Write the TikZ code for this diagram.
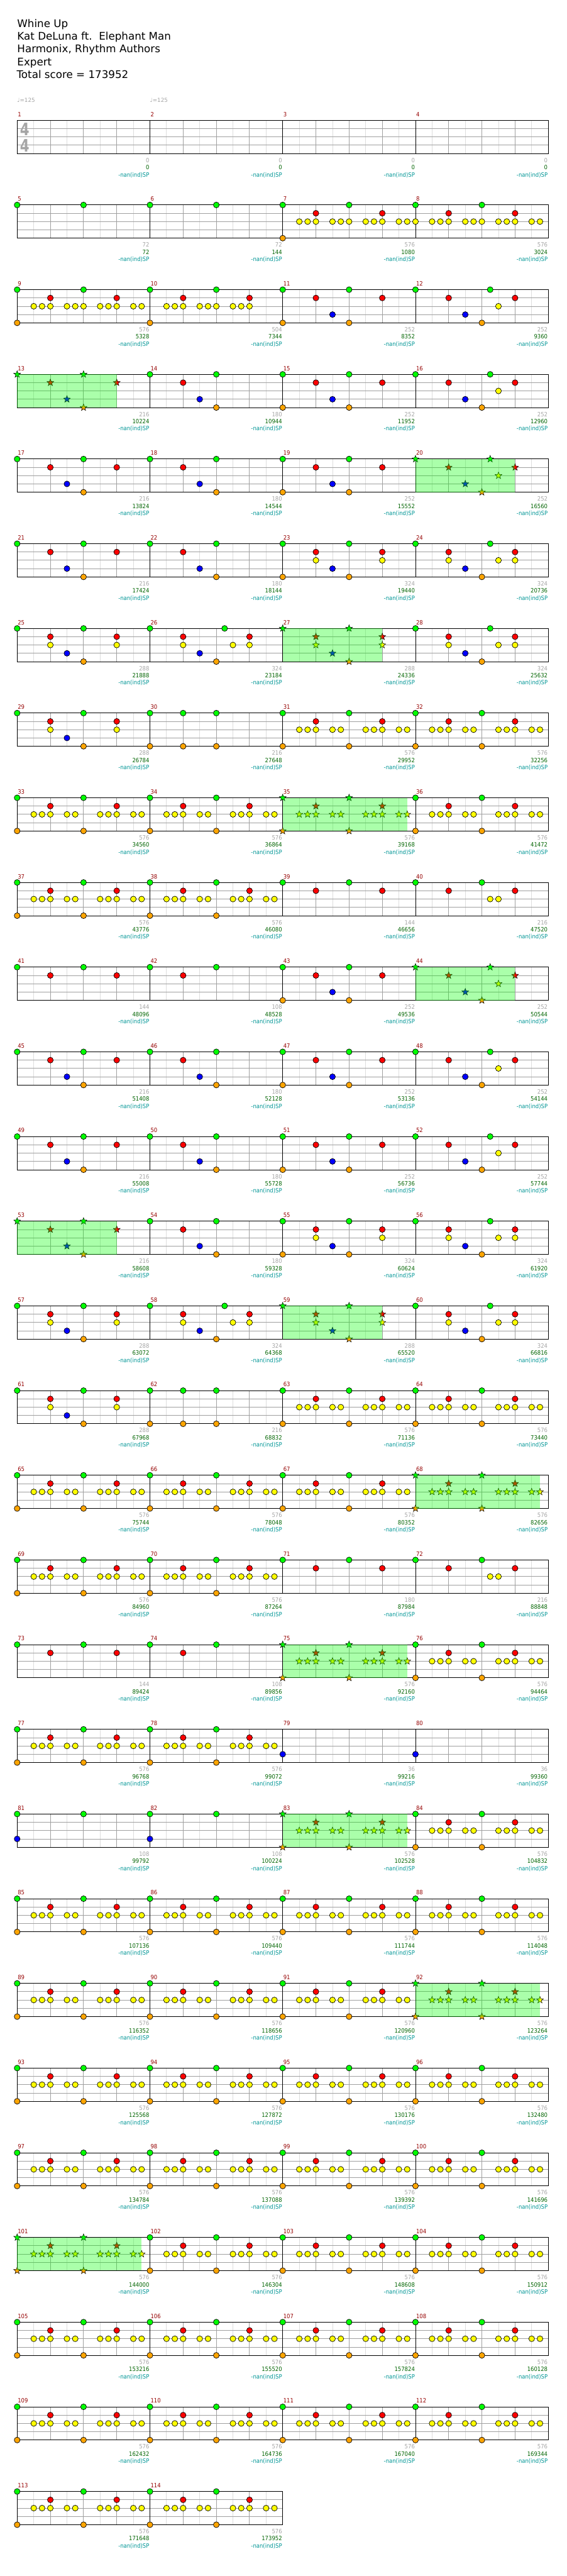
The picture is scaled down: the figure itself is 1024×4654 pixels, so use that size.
\documentclass[tikz,border=0pt]{standalone}
\usepackage{fontspec}
\setmainfont{DejaVu Sans}
\newfontfamily\labfont{DejaVu Sans Condensed}
\usetikzlibrary{shapes.geometric}

\definecolor{laneG}{RGB}{0,255,0}
\definecolor{laneR}{RGB}{255,0,0}
\definecolor{laneY}{RGB}{255,255,0}
\definecolor{laneB}{RGB}{0,0,255}
\definecolor{laneO}{RGB}{255,165,0}
\definecolor{gridDark}{RGB}{160,160,160}
\definecolor{gridLight}{RGB}{221,221,221}
\definecolor{numRed}{RGB}{150,0,0}
\definecolor{totGreen}{RGB}{0,100,0}
\definecolor{spTeal}{RGB}{0,150,150}
\definecolor{ptsGray}{RGB}{165,165,165}

\tikzset{
  hit/.style={circle,draw=black,line width=0.8pt,minimum size=10.5pt,inner sep=0pt},
  note0/.style={hit,fill=laneG},
  note1/.style={hit,fill=laneR},
  note2/.style={hit,fill=laneY},
  note3/.style={hit,fill=laneB},
  note4/.style={hit,fill=laneO},
  spstar/.style={star,star points=5,star point ratio=2.4,minimum size=13pt,inner sep=0pt,draw=black,line width=0.6pt},
  star0/.style={spstar,fill=laneG},
  star1/.style={spstar,fill=laneR},
  star2/.style={spstar,fill=laneY},
  star3/.style={spstar,fill=laneB},
  star4/.style={spstar,fill=laneO},
  subline/.style={gridLight,line width=1pt},
  beatline/.style={gridDark,line width=1pt},
  barline/.style={black,line width=1pt},
  spfill/.style={fill=laneG,fill opacity=0.333},
  titletxt/.style={anchor=base west,inner sep=0pt,font=\fontsize{19}{23}\selectfont},
  numtxt/.style={anchor=base west,inner sep=0pt,text=numRed,font=\labfont\fontsize{10.7}{12}\selectfont},
  ptstxt/.style={anchor=base east,inner sep=0pt,text=ptsGray,font=\labfont\fontsize{10.7}{12}\selectfont},
  tottxt/.style={anchor=base east,inner sep=0pt,text=totGreen,font=\labfont\fontsize{10.7}{12}\selectfont},
  sptxt/.style={anchor=base east,inner sep=0pt,text=spTeal,font=\labfont\fontsize{10.7}{12}\selectfont},
  tempotxt/.style={anchor=base west,inner sep=0pt,text=ptsGray,font=\fontsize{10}{12}\selectfont},
  sigtxt/.style={inner sep=0pt,text=ptsGray,font=\bfseries\fontsize{31}{31}\selectfont}
}

% notes of one lane in one measure: measure, lane, 16th positions, note/star
\newcommand{\hits}[4]{%
  \pgfmathtruncatemacro\nRow{(#1-1)/4}%
  \pgfmathtruncatemacro\nCol{#1-1-4*\nRow}%
  \foreach \p in {#3}{\node[#4#2] at ({31+240*\nCol+15*\p},{217.3+153*\nRow+15*#2}) {};}%
}
% star power zone: measure, last 16th
\newcommand{\spzone}[2]{%
  \pgfmathtruncatemacro\nRow{(#1-1)/4}%
  \pgfmathtruncatemacro\nCol{#1-1-4*\nRow}%
  \fill[spfill] ({31+240*\nCol},{217.3+153*\nRow}) rectangle ({31+240*\nCol+15*#2},{277.3+153*\nRow});
}
% recurring measures
\newcommand{\patA}[2]{\hits{#1}{0}{0,8}{#2}\hits{#1}{4}{0,8}{#2}\hits{#1}{1}{4,12}{#2}\hits{#1}{2}{2,3,4,6,7,10,11,12,14,15}{#2}}
\newcommand{\patB}[2]{\hits{#1}{0}{0,8}{#2}\hits{#1}{1}{4,12}{#2}\hits{#1}{3}{6}{#2}\hits{#1}{4}{8}{#2}}
\newcommand{\patC}[2]{\hits{#1}{0}{0,8}{#2}\hits{#1}{1}{4}{#2}\hits{#1}{3}{6}{#2}\hits{#1}{4}{8}{#2}}
\newcommand{\patD}[2]{\hits{#1}{0}{0,8}{#2}\hits{#1}{4}{0,8}{#2}\hits{#1}{1}{4,12}{#2}\hits{#1}{3}{6}{#2}}
\newcommand{\patE}[2]{\hits{#1}{0}{0,9}{#2}\hits{#1}{1}{4,12}{#2}\hits{#1}{2}{10}{#2}\hits{#1}{3}{6}{#2}\hits{#1}{4}{8}{#2}}
\newcommand{\patF}[2]{\hits{#1}{0}{0,8}{#2}\hits{#1}{4}{0,8}{#2}\hits{#1}{1}{4,12}{#2}\hits{#1}{2}{4,12}{#2}\hits{#1}{3}{6}{#2}}
\newcommand{\patG}[2]{\hits{#1}{0}{0,9}{#2}\hits{#1}{1}{4,12}{#2}\hits{#1}{2}{4,10,12}{#2}\hits{#1}{3}{6}{#2}\hits{#1}{4}{8}{#2}}
\newcommand{\patH}[2]{\hits{#1}{0}{0,8}{#2}\hits{#1}{1}{4,12}{#2}\hits{#1}{2}{4,12}{#2}\hits{#1}{3}{6}{#2}\hits{#1}{4}{8}{#2}}
\newcommand{\patI}[2]{\hits{#1}{0}{0,8}{#2}\hits{#1}{1}{4,12}{#2}}
\newcommand{\patJ}[2]{\hits{#1}{0}{0,8}{#2}\hits{#1}{1}{4,12}{#2}\hits{#1}{2}{9,10}{#2}}
\newcommand{\patK}[2]{\hits{#1}{0}{0,8}{#2}\hits{#1}{1}{4}{#2}}
\newcommand{\patL}[2]{\hits{#1}{0}{0,4,8}{#2}\hits{#1}{4}{0,4,8}{#2}}

\begin{document}
\begin{tikzpicture}[x=1pt,y=-1pt]
\fill[white] (0,0) rectangle (1024,4654);
\useasboundingbox (0,0) rectangle (1024,4654);

% header
\node[titletxt] (song) at (31,49.3) {Whine Up};
\node[titletxt] (artist) at (31,72.3) {Kat DeLuna ft.\ \ Elephant Man};
\node[titletxt] (charter) at (31,95.3) {Harmonix, Rhythm Authors};
\node[titletxt] (level) at (31,118.3) {Expert};
\node[titletxt] (total) at (30,141.3) {Total score = 173952};
\node[tempotxt] (tempo1) at (31,184.3) {♩=125};
\node[tempotxt] (tempo2) at (271,184.3) {♩=125};

% staves
\foreach \r in {0,...,28}{
  \pgfmathsetmacro\T{217.3+153*\r}
  \pgfmathtruncatemacro\nm{\r==28 ? 2 : 4}
  \pgfmathtruncatemacro\ns{8*\nm-1}
  \pgfmathtruncatemacro\nb{4*\nm-1}
  \pgfmathsetmacro\R{31+240*\nm}
  \foreach \i in {1,...,\ns}{
    \ifodd\i \draw[subline] ({31+30*\i},\T) -- ({31+30*\i},\T+60); \fi
  }
  \foreach \k in {1,2,3}
    \draw[beatline] (31,\T+15*\k) -- (\R,\T+15*\k);
  \foreach \i in {1,...,\nb}{
    \pgfmathtruncatemacro\q{mod(\i,4)}
    \ifnum\q=0
      \draw[barline] ({31+60*\i},\T) -- ({31+60*\i},\T+60);
    \else
      \draw[beatline] ({31+60*\i},\T) -- ({31+60*\i},\T+60);
    \fi
  }
  \draw[barline] (31,\T) rectangle (\R,\T+60);
}

\node[sigtxt] (sigtop) at (44.5,233) {\scalebox{0.78}[1]{4}};
\node[sigtxt] (sigbot) at (44.5,263) {\scalebox{0.78}[1]{4}};

% measure numbers and scores
\foreach \m/\g/\s in {1/0/0,2/0/0,3/0/0,4/0/0,
  5/72/72,6/72/144,7/576/1080,8/576/3024,
  9/576/5328,10/504/7344,11/252/8352,12/252/9360,
  13/216/10224,14/180/10944,15/252/11952,16/252/12960,
  17/216/13824,18/180/14544,19/252/15552,20/252/16560,
  21/216/17424,22/180/18144,23/324/19440,24/324/20736,
  25/288/21888,26/324/23184,27/288/24336,28/324/25632,
  29/288/26784,30/216/27648,31/576/29952,32/576/32256,
  33/576/34560,34/576/36864,35/576/39168,36/576/41472,
  37/576/43776,38/576/46080,39/144/46656,40/216/47520,
  41/144/48096,42/108/48528,43/252/49536,44/252/50544,
  45/216/51408,46/180/52128,47/252/53136,48/252/54144,
  49/216/55008,50/180/55728,51/252/56736,52/252/57744,
  53/216/58608,54/180/59328,55/324/60624,56/324/61920,
  57/288/63072,58/324/64368,59/288/65520,60/324/66816,
  61/288/67968,62/216/68832,63/576/71136,64/576/73440,
  65/576/75744,66/576/78048,67/576/80352,68/576/82656,
  69/576/84960,70/576/87264,71/180/87984,72/216/88848,
  73/144/89424,74/108/89856,75/576/92160,76/576/94464,
  77/576/96768,78/576/99072,79/36/99216,80/36/99360,
  81/108/99792,82/108/100224,83/576/102528,84/576/104832,
  85/576/107136,86/576/109440,87/576/111744,88/576/114048,
  89/576/116352,90/576/118656,91/576/120960,92/576/123264,
  93/576/125568,94/576/127872,95/576/130176,96/576/132480,
  97/576/134784,98/576/137088,99/576/139392,100/576/141696,
  101/576/144000,102/576/146304,103/576/148608,104/576/150912,
  105/576/153216,106/576/155520,107/576/157824,108/576/160128,
  109/576/162432,110/576/164736,111/576/167040,112/576/169344,
  113/576/171648,114/576/173952}{
  \pgfmathtruncatemacro\lr{(\m-1)/4}
  \pgfmathtruncatemacro\lc{\m-1-4*\lr}
  \pgfmathsetmacro\xs{31+240*\lc}
  \pgfmathsetmacro\yt{217.3+153*\lr}
  \node[numtxt] (num\m) at (\xs+1,\yt-7) {\m};
  \node[ptstxt] (pts\m) at (\xs+239,\yt+76) {\g};
  \node[tottxt] (tot\m) at (\xs+239,\yt+89) {\s};
  \node[sptxt] (sp\m) at (\xs+239,\yt+102) {-nan(ind)SP};
}

% notes
\hits{5}{0}{0,8}{note} \hits{6}{0}{0,8}{note}
\hits{7}{0}{0,8}{note}\hits{7}{4}{0}{note}\hits{7}{1}{4,12}{note}\hits{7}{2}{2,3,4,6,7,8,10,11,12,14,15}{note}
\hits{8}{0}{0,8}{note}\hits{8}{1}{4,12}{note}\hits{8}{2}{0,2,3,4,6,7,8,10,11,12,14,15}{note}
\hits{9}{0}{0,8}{note}\hits{9}{4}{0}{note}\hits{9}{1}{4,12}{note}\hits{9}{2}{2,3,4,6,7,8,10,11,12,14,15}{note}
\hits{10}{0}{0,8}{note}\hits{10}{4}{0}{note}\hits{10}{1}{4,12}{note}\hits{10}{2}{2,3,4,6,7,8,10,11,12}{note}
\patD{11}{note} \patE{12}{note}
\patB{13}{star} \patC{14}{note} \patD{15}{note} \patE{16}{note}
\patB{17}{note} \patC{18}{note} \patD{19}{note} \patE{20}{star}
\patB{21}{note} \patC{22}{note} \patF{23}{note} \patG{24}{note}
\patH{25}{note} \patG{26}{note} \patH{27}{star} \patG{28}{note}
\patH{29}{note} \patL{30}{note} \patA{31}{note} \patA{32}{note}
\patA{33}{note} \patA{34}{note} \patA{35}{star} \patA{36}{note}
\patA{37}{note} \patA{38}{note} \patI{39}{note} \patJ{40}{note}
\patI{41}{note} \patK{42}{note} \patD{43}{note} \patE{44}{star}
\patB{45}{note} \patC{46}{note} \patD{47}{note} \patE{48}{note}
\patB{49}{note} \patC{50}{note} \patD{51}{note} \patE{52}{note}
\patB{53}{star} \patC{54}{note} \patF{55}{note} \patG{56}{note}
\patH{57}{note} \patG{58}{note} \patH{59}{star} \patG{60}{note}
\patH{61}{note} \patL{62}{note} \patA{63}{note} \patA{64}{note}
\patA{65}{note} \patA{66}{note} \patA{67}{note} \patA{68}{star}
\patA{69}{note} \patA{70}{note} \patI{71}{note} \patJ{72}{note}
\patI{73}{note} \patK{74}{note} \patA{75}{star} \patA{76}{note}
\patA{77}{note} \patA{78}{note} \hits{79}{3}{0}{note} \hits{80}{3}{0}{note}
\hits{81}{0}{0,8}{note}\hits{81}{3}{0}{note} \hits{82}{0}{0,8}{note}\hits{82}{3}{0}{note}
\patA{83}{star} \patA{84}{note}
\foreach \m in {85,...,91,93,94,...,100,102,103,...,114}{\patA{\m}{note}}
\patA{92}{star} \patA{101}{star}

% star power
\spzone{13}{12} \spzone{20}{12} \spzone{27}{12} \spzone{35}{15}
\spzone{44}{12} \spzone{53}{12} \spzone{59}{12} \spzone{68}{15}
\spzone{75}{15} \spzone{83}{15} \spzone{92}{15} \spzone{101}{15}
\end{tikzpicture}
\end{document}
